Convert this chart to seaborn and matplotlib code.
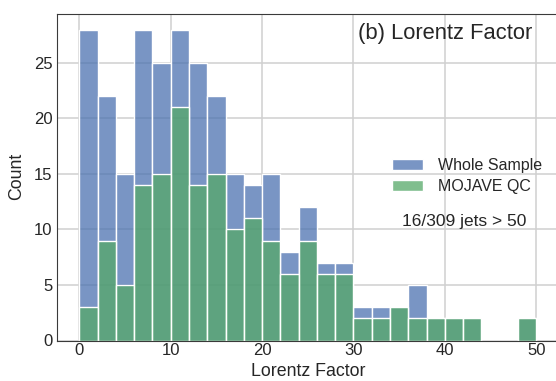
import numpy as np
import pandas as pd
import matplotlib
matplotlib.use("Agg")
import matplotlib.pyplot as plt
import seaborn as sns

# Histogram bins of width 2 from 0 to 50
bin_width = 2
bin_range = (0, 50)
bin_centers = np.arange(1, 50, 2)

# Counts per bin
whole_sample = [28, 22, 15, 28, 25, 28, 25, 22, 15, 14, 15, 8, 12,
                7, 7, 3, 3, 3, 5, 2, 2, 2, 0, 0, 2]
mojave_qc = [3, 9, 5, 14, 15, 21, 14, 15, 10, 11, 9, 6, 9,
             6, 6, 2, 2, 3, 2, 2, 2, 2, 0, 0, 2]

x_ticks = [0, 10, 20, 30, 40, 50]
y_ticks = [0, 5, 10, 15, 20, 25]

sns.set_style("whitegrid", {
    "axes.edgecolor": "#3a3a3a",
    "grid.color": "#d0d0d0",
    "axes.linewidth": 1.1,
})
plt.rcParams["font.family"] = ["Liberation Sans", "DejaVu Sans"]
plt.rcParams["text.color"] = "#262626"
plt.rcParams["axes.labelcolor"] = "#262626"
plt.rcParams["xtick.color"] = "#262626"
plt.rcParams["ytick.color"] = "#262626"

W, H = 556, 381
fig = plt.figure(figsize=(W / 100, H / 100), dpi=100)
ax_left, ax_right, ax_top, ax_bottom = 56.5, 559, 14, 340.5
ax = fig.add_axes([ax_left / W, 1 - ax_bottom / H,
                   (ax_right - ax_left) / W, (ax_bottom - ax_top) / H])


def to_axes(px, py):
    return ((px - ax_left) / (ax_right - ax_left),
            (ax_bottom - py) / (ax_bottom - ax_top))


df = pd.DataFrame({"center": bin_centers,
                   "whole": whole_sample,
                   "qc": mojave_qc})

sns.histplot(data=df, x="center", weights="whole", binwidth=bin_width,
             binrange=bin_range, color="#4c72b0", alpha=0.75,
             edgecolor="white", linewidth=1.0, label="Whole Sample", ax=ax)
sns.histplot(data=df, x="center", weights="qc", binwidth=bin_width,
             binrange=bin_range, color="#55a868", alpha=0.75,
             edgecolor="white", linewidth=1.0, label="MOJAVE QC", ax=ax)

ax.set_xlim(-2.5, 52.5)
ax.set_ylim(0, 29.4)
ax.set_xticks(x_ticks)
ax.set_yticks(y_ticks)
ax.tick_params(labelsize=12, length=0)
ax.tick_params(axis="x", pad=1.5)
ax.tick_params(axis="y", pad=3)
ax.grid(True, linewidth=1.1)
ax.set_axisbelow(True)

ax.set_xlabel("Lorentz Factor", fontsize=12.8)
ax.xaxis.label.set_va("baseline")
ax.xaxis.set_label_coords(*to_axes(308, 376.5))
ax.set_ylabel("Count", fontsize=12.8)
ax.yaxis.label.set_va("center")
ax.yaxis.set_label_coords(*to_axes(16.5, 176))

ax.text(*to_axes(358, 38.5), "(b) Lorentz Factor", transform=ax.transAxes,
        fontsize=15.8, ha="left", va="baseline")

ax.legend(frameon=False, loc="center left",
          bbox_to_anchor=to_axes(392, 176),
          borderaxespad=0, borderpad=0, fontsize=11.5,
          handlelength=1.95, handleheight=0.7, handletextpad=0.95,
          labelspacing=0.4)

ax.text(*to_axes(463.7, 226), "16/309 jets > 50", transform=ax.transAxes,
        fontsize=12.5, ha="center", va="baseline")

fig.savefig("out.png", dpi=100)
